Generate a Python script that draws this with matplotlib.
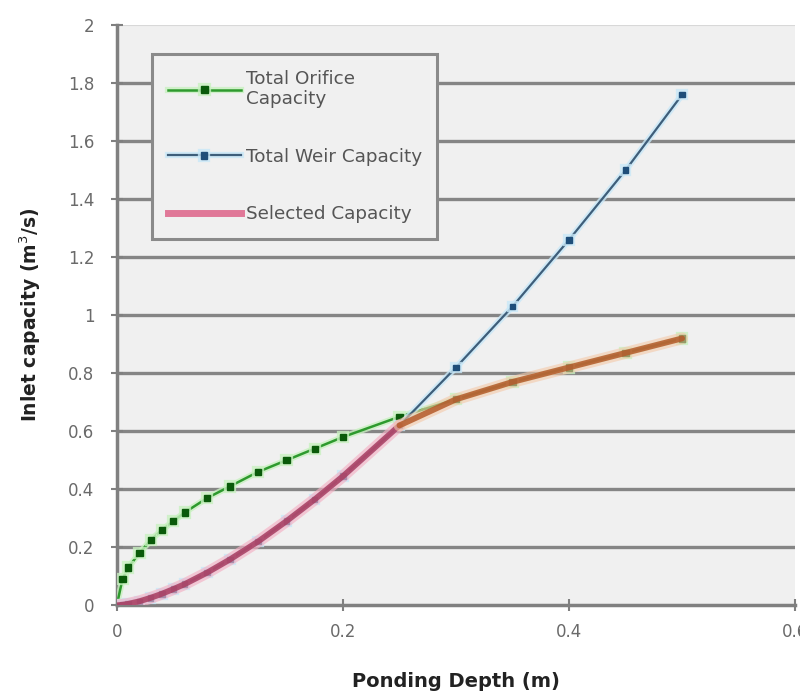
import matplotlib
matplotlib.use("Agg")
import matplotlib.pyplot as plt
import matplotlib.patheffects as pe
from matplotlib.lines import Line2D

plt.rcParams['font.family'] = ['DejaVu Sans']

depth = [0, 0.005, 0.01, 0.02, 0.03, 0.04, 0.05, 0.06, 0.08, 0.10, 0.125, 0.15,
         0.175, 0.20, 0.25, 0.30, 0.35, 0.40, 0.45, 0.50]
orifice = [0, 0.09, 0.13, 0.18, 0.225, 0.26, 0.29, 0.32, 0.37, 0.41, 0.46, 0.50,
           0.54, 0.58, 0.65, 0.71, 0.77, 0.82, 0.87, 0.92]
weir = [0, 0.002, 0.005, 0.014, 0.026, 0.04, 0.056, 0.073, 0.113, 0.158, 0.22, 0.29,
        0.365, 0.445, 0.62, 0.82, 1.03, 1.26, 1.50, 1.76]
selected = [0, 0.002, 0.005, 0.014, 0.026, 0.04, 0.056, 0.073, 0.113, 0.158, 0.22, 0.29,
            0.365, 0.445, 0.62, 0.71, 0.77, 0.82, 0.87, 0.92]

xticks = [0, 0.2, 0.4, 0.6]
xticklabels = ['0', '0.2', '0.4', '0.6']
yticks = [0, 0.2, 0.4, 0.6, 0.8, 1, 1.2, 1.4, 1.6, 1.8, 2]
yticklabels = ['0', '0.2', '0.4', '0.6', '0.8', '1', '1.2', '1.4', '1.6', '1.8', '2']

fig = plt.figure(figsize=(8, 6.95), dpi=100)
ax = fig.add_axes([0.146, 0.129, 0.848, 0.835])
ax.set_facecolor('#f0f0f0')

for y in yticks[1:-1]:
    ax.axhline(y, color='#858585', lw=2.4, zorder=1)
ax.axhline(yticks[-1], color='#d8d8d8', lw=1.5, zorder=1)

halo_g = [pe.Stroke(linewidth=4.5, foreground='#c8f0c0', alpha=0.8), pe.Normal()]
halo_b = [pe.Stroke(linewidth=4.5, foreground='#c8e8f8', alpha=0.8), pe.Normal()]
ax.plot(depth, orifice, color='#2e9a2e', lw=1.8, marker='s', ms=4.5,
        mfc='#0a5a0a', mec='#0a5a0a', zorder=3, path_effects=halo_g)
ax.plot(depth, weir, color='#3e5e7a', lw=1.6, marker='s', ms=4,
        mfc='#1e4e7a', mec='#1e4e7a', zorder=3, path_effects=halo_b)

# selected capacity: weir-limited part then orifice-limited part
k = max(i for i in range(len(depth)) if weir[i] <= orifice[i])
ax.plot(depth[:k + 1], selected[:k + 1], color='#a83c60', lw=4.2, alpha=0.85, zorder=4,
        solid_capstyle='round',
        path_effects=[pe.Stroke(linewidth=8.5, foreground='#f4b0c4', alpha=0.65), pe.Normal()])
ax.plot(depth[k:], selected[k:], color='#b45a2a', lw=4.2, alpha=0.85, zorder=4,
        solid_capstyle='round',
        path_effects=[pe.Stroke(linewidth=8.5, foreground='#f4c8a8', alpha=0.6), pe.Normal()])

ax.set_xlim(0, 0.6)
ax.set_ylim(0, 2)
ax.set_xticks(xticks)
ax.set_xticklabels(xticklabels)
ax.set_yticks(yticks)
ax.set_yticklabels(yticklabels)
ax.tick_params(axis='both', colors='#808080', labelcolor='#6a6a6a', labelsize=12,
               direction='inout', length=8, width=1.5)
ax.tick_params(axis='y', pad=12)
ax.tick_params(axis='x', pad=9)

for s in ['top', 'right']:
    ax.spines[s].set_visible(False)
for s in ['left', 'bottom']:
    ax.spines[s].set_color('#808080')
    ax.spines[s].set_linewidth(2.5)

ax.set_xlabel('Ponding Depth (m)', fontsize=14, fontweight='bold', color='#222222', labelpad=22)
ax.set_ylabel('Inlet capacity (m$^3$/s)', fontsize=13.5, fontweight='bold', color='#222222',
              labelpad=18)

handles = [
    Line2D([], [], color='#2e9a2e', lw=1.8, marker='s', ms=5, mfc='#0a5a0a', mec='#0a5a0a',
           path_effects=halo_g),
    Line2D([], [], color='#3e5e7a', lw=1.6, marker='s', ms=4.5, mfc='#1e4e7a', mec='#1e4e7a',
           path_effects=halo_b),
    Line2D([], [], color='#e07898', lw=5),
]
labels = ['Total Orifice\nCapacity', 'Total Weir Capacity', 'Selected Capacity']
leg = ax.legend(handles, labels,
                loc='upper left', bbox_to_anchor=(0.052, 0.95), fontsize=13.2,
                handlelength=4.0, handletextpad=0.25, labelspacing=2.15,
                borderpad=0.85, borderaxespad=0, fancybox=False, framealpha=1,
                edgecolor='#8a8a8a', facecolor='#f0f0f0', labelcolor='#555555')
leg.get_frame().set_linewidth(2.2)

fig.savefig('out.png', dpi=100, facecolor='white')
